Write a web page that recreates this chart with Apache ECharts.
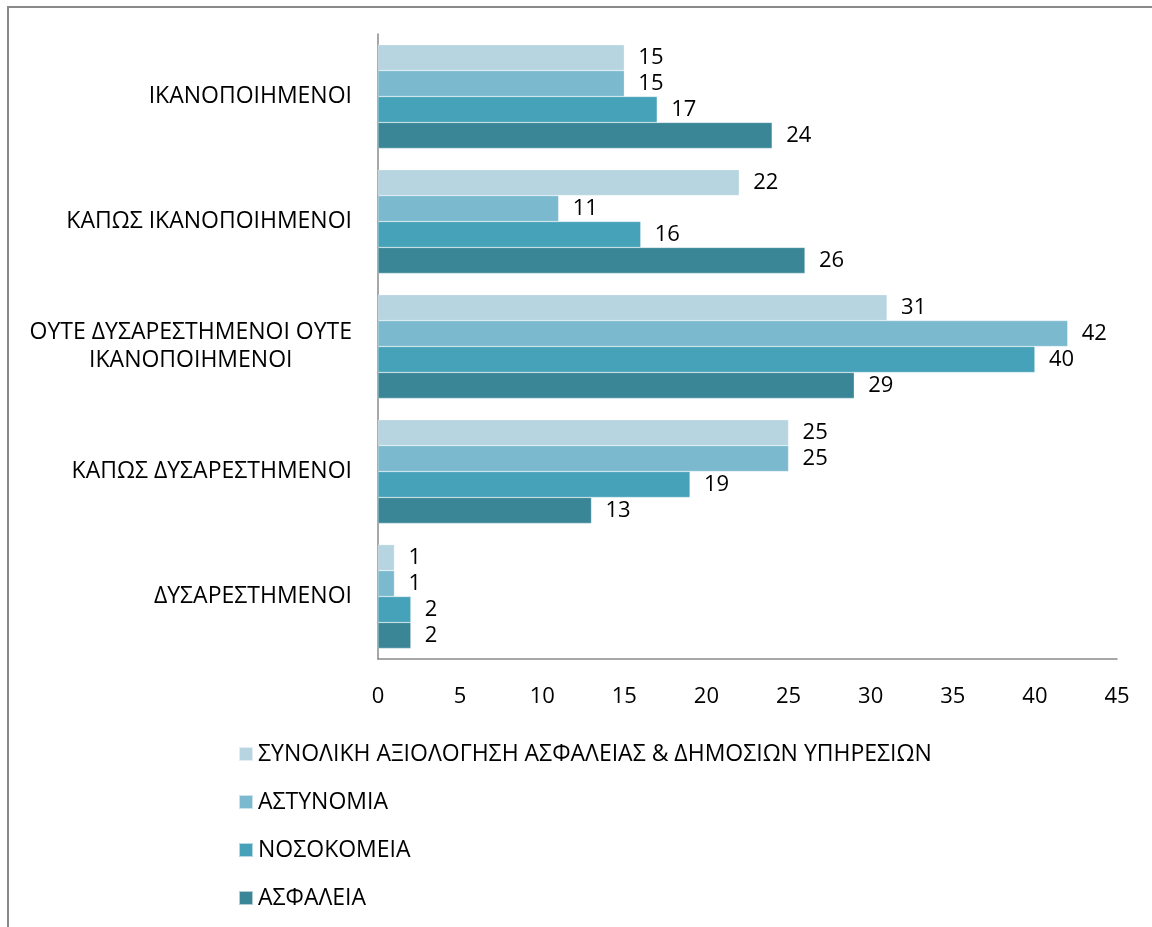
<!DOCTYPE html>
<html>
<head>
<meta charset="utf-8">
<script src="https://cdn.jsdelivr.net/npm/echarts@6/dist/echarts.min.js"></script>
<style>html,body{margin:0;padding:0;background:#fff}#c{width:1152px;height:927px}</style>
</head>
<body>
<div id="c"></div>
<script>
var categories = ['ΙΚΑΝΟΠΟΙΗΜΕΝΟΙ', 'ΚΑΠΩΣ ΙΚΑΝΟΠΟΙΗΜΕΝΟΙ', 'ΟΥΤΕ ΔΥΣΑΡΕΣΤΗΜΕΝΟΙ ΟΥΤΕ\nΙΚΑΝΟΠΟΙΗΜΕΝΟΙ', 'ΚΑΠΩΣ ΔΥΣΑΡΕΣΤΗΜΕΝΟΙ', 'ΔΥΣΑΡΕΣΤΗΜΕΝΟΙ'];
var seriesNames = ['ΣΥΝΟΛΙΚΗ ΑΞΙΟΛΟΓΗΣΗ ΑΣΦΑΛΕΙΑΣ & ΔΗΜΟΣΙΩΝ ΥΠΗΡΕΣΙΩΝ', 'ΑΣΤΥΝΟΜΙΑ', 'ΝΟΣΟΚΟΜΕΙΑ', 'ΑΣΦΑΛΕΙΑ'];
var totalValues = [15, 22, 31, 25, 1];
var policeValues = [15, 11, 42, 25, 1];
var hospitalValues = [17, 16, 40, 19, 2];
var insuranceValues = [24, 26, 29, 13, 2];
var xTicks = [0, 5, 10, 15, 20, 25, 30, 35, 40, 45];

var colors = ['#B7D5E0', '#7BB9CF', '#46A2B9', '#3A8596'];
var FONT = 'Open Sans';
var FS = 23;
var allValues = [totalValues, policeValues, hospitalValues, insuranceValues];

var chart = echarts.init(document.getElementById('c'));
var series = seriesNames.map(function (n, i) {
  return {
    name: n,
    type: 'bar',
    data: allValues[i],
    barGap: '0%',
    barCategoryGap: '17%',
    itemStyle: { color: colors[i], borderColor: 'rgba(255,255,255,0.6)', borderWidth: 0.5 },
    label: { show: true, position: 'right', distance: 14, color: '#000', fontFamily: FONT, fontSize: 22 }
  };
});

chart.setOption({
  animation: false,
  color: colors,
  graphic: [{
    type: 'rect', shape: { x: 8, y: 7, width: 1300, height: 1100 },
    style: { fill: 'none', stroke: '#8a8a8a', lineWidth: 2 }, silent: true
  }],
  grid: { left: 378, right: 35, top: 34, bottom: 268, containLabel: false },
  xAxis: {
    type: 'value', min: 0, max: 45, interval: 5,
    axisLine: { show: true, lineStyle: { color: '#8a8a8a', width: 1.5 } },
    axisTick: { show: false },
    splitLine: { show: false },
    axisLabel: {
      color: '#000', fontFamily: FONT, fontSize: 22, margin: 27,
      formatter: function (v) { return xTicks.indexOf(v) >= 0 ? String(v) : ''; }
    }
  },
  yAxis: {
    type: 'category', data: categories, inverse: true,
    axisLine: { show: true, lineStyle: { color: '#8a8a8a', width: 1.5 } },
    axisTick: { show: false },
    axisLabel: {
      color: '#000', fontFamily: FONT, fontSize: FS, margin: 26, lineHeight: 28,
      formatter: function (v) {
        return v.split('\n').map(function (s) { return '{c|' + s + '}'; }).join('\n');
      },
      rich: { c: { align: 'center', color: '#000', fontFamily: FONT, fontSize: FS, lineHeight: 28 } }
    }
  },
  legend: {
    orient: 'vertical', left: 233, top: 736,
    itemWidth: 14, itemHeight: 14, itemGap: 22, icon: 'rect',
    textStyle: { color: '#000', fontFamily: FONT, fontSize: FS, lineHeight: 26 },
    data: seriesNames
  },
  series: series
});
</script>
</body>
</html>
